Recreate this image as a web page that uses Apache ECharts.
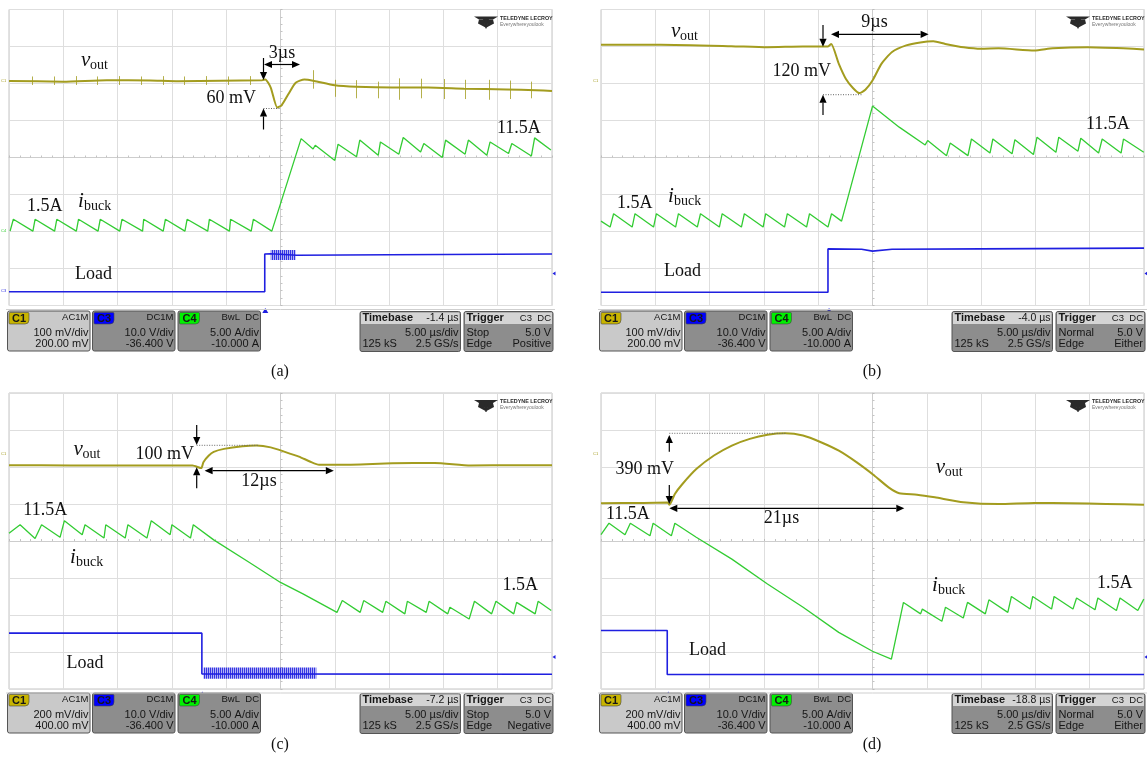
<!DOCTYPE html>
<html><head><meta charset="utf-8">
<script src="https://cdn.jsdelivr.net/npm/echarts@6/dist/echarts.min.js"></script>
<style>html,body{margin:0;padding:0;background:#fff}#c{width:1147px;height:757px}</style>
</head><body><div id="c"></div>
<script>
// ===== data: time in µs from screen centre, amplitude in screen divisions =====
const voutA = [[-25,2.07],[-20,2.05],[-16,2.09],[-12,2.08],[-9.4,2.06],[-1.7,2.09],[-1.4,2.11],[-0.9,1.89],[-0.3,1.35],[0.1,1.41],[0.76,1.73],[1.4,2.02],[2.2,2.11],[3.1,2.07],[5.0,1.95],[7.0,1.91],[10.3,1.89],[13.6,1.89],[16.9,1.86],[20.8,1.84],[23.5,1.82],[25,1.8]];
const spikesA = [[-22.86,1.96,2.19],[-20.86,1.96,2.19],[-18.85,1.96,2.2],[-16.84,1.96,2.19],[-14.84,1.96,2.2],[-12.83,1.96,2.19],[-10.82,1.96,2.2],[-8.82,1.96,2.19],[-6.81,1.96,2.2],[-4.8,1.96,2.19],[-2.8,1.96,2.2],
  [3.06,1.86,2.36],[5.03,1.64,2.1],[7.0,1.6,2.09],[8.98,1.6,2.05],[10.95,1.56,2.14],[12.93,1.6,2.13],[15.07,1.58,2.12],[17.04,1.58,2.1],[19.18,1.56,2.1],[21.15,1.58,2.08],[23.13,1.6,2.05]];
const ibuckA = [[-24.9,-1.99],[-24.6,-1.67],[-22.8,-1.99],[-22.6,-1.67],[-20.8,-1.99],[-20.6,-1.67],[-18.8,-1.99],[-18.6,-1.67],[-16.8,-1.99],[-16.6,-1.67],[-14.8,-1.99],[-14.6,-1.67],[-12.7,-1.99],[-12.6,-1.67],[-10.8,-1.99],[-10.6,-1.67],[-8.8,-1.99],[-8.6,-1.67],[-6.7,-1.99],[-6.55,-1.67],[-4.7,-1.99],[-4.6,-1.67],[-2.7,-1.99],[-2.5,-1.67],[-0.8,-1.99],
  [1.9,0.51],[3.0,0.23],[3.2,0.33],[5.0,-0.08],[5.3,0.36],[7.0,0.02],[7.3,0.47],[9.0,0.06],[9.2,0.42],[10.9,0.09],[11.3,0.54],[12.9,0.15],[13.2,0.38],[14.9,0.0],[15.2,0.47],[17.0,0.09],[17.3,0.47],[19.0,0.06],[19.3,0.42],[21.0,0.11],[21.3,0.38],[23.1,0.04],[23.4,0.53],[24.9,0.2]];
const loadA = [[-25,-3.63],[-1.45,-3.63],[-1.45,-2.61],[-0.9,-2.6],[1.5,-2.64],[10,-2.63],[25,-2.61]];
const burstA = [-0.9,1.4,-2.77,-2.5];

const voutB = [[-25,3.05],[-19.5,3.05],[-13,3.01],[-9.7,2.98],[-6.4,3.0],[-4.1,3.0],[-3.8,3.07],[-3.1,2.53],[-2.46,2.13],[-1.8,1.88],[-1.21,1.74],[-0.66,1.83],[0,2.08],[0.82,2.53],[1.8,2.85],[3.1,3.03],[4.4,3.11],[5.6,3.14],[6.7,3.07],[8.4,2.98],[10,2.94],[11.6,2.95],[14.9,2.89],[16.6,2.95],[19.8,2.98],[23.1,2.95],[25,2.92]];
const ibuckB = [[-25,-1.72],[-24.16,-1.88],[-23.84,-1.52],[-22.13,-1.88],[-21.87,-1.52],[-20.16,-1.88],[-19.9,-1.52],[-18.13,-1.88],[-17.87,-1.52],[-16.13,-1.88],[-15.84,-1.52],[-14.1,-1.88],[-13.84,-1.52],[-12.07,-1.88],[-11.8,-1.52],[-10.07,-1.88],[-9.84,-1.52],[-8.1,-1.88],[-7.84,-1.52],[-6.07,-1.88],[-5.8,-1.52],[-4.1,-1.88],[-3.77,-1.52],[-2.85,-1.72],
  [0,1.39],[2.46,0.82],[4.85,0.34],[5.08,0.46],[6.82,0.05],[7.15,0.39],[8.79,0.05],[9.11,0.5],[10.82,0.12],[11.08,0.5],[12.85,0.1],[13.11,0.48],[14.82,0.08],[15.15,0.55],[16.89,0.14],[17.15,0.55],[18.92,0.17],[19.18,0.52],[20.82,0.12],[21.15,0.5],[22.89,0.12],[23.11,0.5],[24.98,0.14]];
const loadB = [[-25,-3.64],[-4.1,-3.64],[-4.1,-2.47],[-1,-2.48],[0,-2.53],[1.8,-2.48],[10,-2.47],[25,-2.45]];

const voutC = [[-25,2.05],[-19.3,2.04],[-12.1,2.04],[-8.1,2.04],[-7.3,1.97],[-7.1,2.13],[-6.6,2.31],[-6.15,2.41],[-5.2,2.49],[-3.5,2.56],[-2.2,2.58],[-0.9,2.53],[0.4,2.41],[1.7,2.28],[2.7,2.15],[3.55,2.06],[5.4,2.06],[10.3,2.1],[14.2,2.11],[17.5,2.04],[21.5,2.05],[25,2.05]];
const ibuckC = [[-25,0.21],[-23.98,0.44],[-22.6,0.07],[-22.0,0.44],[-20.3,0.1],[-19.9,0.55],[-18.26,0.17],[-18.0,0.44],[-16.25,0.08],[-16.09,0.44],[-14.3,0.08],[-14.05,0.44],[-12.3,0.08],[-11.9,0.55],[-10.16,0.17],[-10.0,0.44],[-8.29,0.08],[-8.03,0.44],
  [-6.15,0.03],[-2.86,-0.58],[0,-1.12],[2.07,-1.43],[5.2,-1.93],[5.69,-1.61],[7.34,-1.93],[7.66,-1.61],[9.41,-1.93],[9.7,-1.63],[11.45,-1.97],[11.68,-1.63],[13.42,-1.93],[13.68,-1.63],[15.4,-1.97],[15.6,-1.79],[17.37,-2.11],[17.86,-1.63],[19.44,-1.97],[19.84,-1.63],[21.48,-1.97],[21.74,-1.66],[23.45,-1.97],[23.72,-1.63],[24.93,-1.88]];
const loadC = [[-25,-2.49],[-7.24,-2.49],[-7.24,-3.59],[25,-3.6]];
const burstC = [-7.1,3.3,-3.72,-3.42];

const voutD = [[-25,1.02],[-21.1,1.03],[-18.85,1.04],[-18.7,0.98],[-18.2,1.27],[-17.5,1.54],[-16.2,1.95],[-14.6,2.31],[-12.95,2.58],[-11.3,2.76],[-9.67,2.87],[-8.03,2.91],[-6.4,2.85],[-4.75,2.67],[-3.1,2.44],[-1.48,2.13],[0.16,1.77],[1.48,1.45],[2.46,1.29],[4.1,1.25],[5.74,1.18],[8.36,1.05],[11.64,1.0],[14.9,1.03],[18.2,1.02],[21.5,1.0],[25,0.98]];
const ibuckD = [[-25,0.17],[-24.26,0.48],[-22.79,0.17],[-22.3,0.48],[-20.49,0.14],[-20.2,0.48],[-18.52,0.14],[-18.2,0.48],[-16.23,0.1],[-12.95,-0.49],[-9.67,-1.16],[-6.39,-1.79],[-3.11,-2.47],[0,-2.98],[1.74,-3.19],
  [2.85,-1.66],[4.43,-1.97],[4.59,-1.84],[6.39,-2.17],[6.72,-1.79],[8.36,-2.08],[8.75,-1.66],[10.39,-1.97],[10.72,-1.59],[12.46,-1.93],[12.79,-1.5],[14.52,-1.84],[14.75,-1.5],[16.49,-1.84],[16.72,-1.5],[18.46,-1.84],[18.79,-1.54],[20.49,-1.86],[20.75,-1.54],[22.46,-1.88],[22.79,-1.54],[24.43,-1.88],[24.98,-1.57]];
const loadD = [[-25,-2.42],[-18.9,-2.42],[-18.9,-3.61],[25,-3.61]];

// scope settings shown in the info bars
const c1Scale = ['100 mV/div','100 mV/div','200 mV/div','200 mV/div'];
const c1Offset = ['200.00 mV','200.00 mV','400.00 mV','400.00 mV'];
const tbDelay = [-1.4,-4.0,-7.2,-18.8];
const trigMode = ['Stop','Normal','Stop','Normal'];
const trigSlope = ['Positive','Either','Negative','Either'];
const captions = ['(a)','(b)','(c)','(d)'];

// ===== chart =====
const panels = [
  {vout:voutA, ibuck:ibuckA, load:loadA, spikes:spikesA, burst:burstA},
  {vout:voutB, ibuck:ibuckB, load:loadB, spikes:[], burst:null},
  {vout:voutC, ibuck:ibuckC, load:loadC, spikes:[], burst:burstC},
  {vout:voutD, ibuck:ibuckD, load:loadD, spikes:[], burst:null}
];
const layout = [{l:9,t:9.5,ox:0,oy:0},{l:601,t:9.5,ox:592,oy:0},{l:9,t:393,ox:0,oy:382},{l:601,t:393,ox:592,oy:382}];
const GW=543, GH=296;
const COL={v:'#a39c1f', i:'#33cc33', l:'#1f1fe0'};

// dense vertical hatch pattern used for the ringing bursts on the load trace
const hatch = document.createElement('canvas'); hatch.width=2; hatch.height=4;
(function(){ const g=hatch.getContext('2d'); g.fillStyle='rgba(31,31,224,0.9)'; g.fillRect(0,0,1.2,4); g.fillStyle='rgba(31,31,224,0.25)'; g.fillRect(1.2,0,0.8,4); })();

const grids=[], xAxes=[], yAxes=[], series=[];
panels.forEach((p,k)=>{
  grids.push({left:layout[k].l, top:layout[k].t, width:GW, height:GH, show:true, borderColor:'#c4c4c4', borderWidth:1, backgroundColor:'#fff', outerBoundsMode:'none', containLabel:false});
  const ax = {gridIndex:k, type:'value', axisLabel:{show:false},
    axisLine:{show:true,onZero:true,lineStyle:{color:'#cdcdcd',width:1}},
    axisTick:{show:true,inside:true,length:2,lineStyle:{color:'#bdbdbd'}},
    minorTick:{show:true,splitNumber:5,length:2,lineStyle:{color:'#c4c4c4'}},
    splitLine:{show:true,lineStyle:{color:'#dedede',width:1}}};
  xAxes.push(Object.assign({}, ax, {min:-25,max:25,interval:5}));
  yAxes.push(Object.assign({}, ax, {min:-4,max:4,interval:1}));
  const base = {type:'line', xAxisIndex:k, yAxisIndex:k, symbol:'none', silent:true, animation:false};
  const vs = Object.assign({}, base, {data:p.vout, smooth:0.2, z:4, lineStyle:{color:COL.v,width:2}});
  if (p.spikes.length) vs.markLine = {silent:true, animation:false, symbol:['none','none'], label:{show:false},
    lineStyle:{color:COL.v,width:1,type:'solid',opacity:0.8}, emphasis:{disabled:true},
    data:p.spikes.map(s=>[{coord:[s[0],s[1]]},{coord:[s[0],s[2]]}])};
  series.push(vs);
  series.push(Object.assign({}, base, {data:p.ibuck, z:3, lineStyle:{color:COL.i,width:1.3}}));
  const ls = Object.assign({}, base, {data:p.load, z:3, lineStyle:{color:COL.l,width:1.6},
    markPoint:{silent:true, animation:false, symbol:'triangle', symbolSize:[6,5], symbolOffset:[0,5], label:{show:false},
      itemStyle:{color:COL.l}, data:[{coord:[tbDelay[k],-4]}]}});
  if (p.burst) ls.markArea = {silent:true, animation:false, itemStyle:{color:{image:hatch,repeat:'repeat'}}, label:{show:false},
    data:[[{coord:[p.burst[0],p.burst[2]]},{coord:[p.burst[1],p.burst[3]]}]]};
  series.push(ls);
});

// ===== graphic overlays (annotations, info bars, captions) =====
const G=[];
const SERIF='"Liberation Serif","Times New Roman",serif';
const SANS='"Liberation Sans",Arial,sans-serif';
function T(x,y,text,font,opt){ opt=opt||{}; G.push({type:'text',x,y,z:opt.z||60,silent:true,style:{text,font,fill:opt.fill||'#111',align:opt.align||'left',verticalAlign:'middle'}}); }
function L(x1,y1,x2,y2,st){ G.push({type:'line',z:60,silent:true,shape:{x1,y1,x2,y2},style:Object.assign({stroke:'#000',lineWidth:1.2},st||{})}); }
function head(x2,y2,ux,uy){ const hl=8,hw=3.6,bx=x2-ux*hl,by=y2-uy*hl;
  G.push({type:'polygon',z:61,silent:true,shape:{points:[[x2,y2],[bx-uy*hw,by+ux*hw],[bx+uy*hw,by-ux*hw]]},style:{fill:'#000'}}); return [bx,by]; }
function arrow(x1,y1,x2,y2){ const dx=x2-x1,dy=y2-y1,d=Math.hypot(dx,dy); const b=head(x2,y2,dx/d,dy/d); L(x1,y1,b[0],b[1]); }
function darrow(x1,x2,y){ const a=head(x1,y,-1,0), b=head(x2,y,1,0); L(a[0],y,b[0],y); }
function dotted(x1,x2,y){ L(x1,y,x2,y,{stroke:'#666',lineWidth:1,lineDash:[1,1.5]}); }
function label(x,y,t,align){ T(x,y,t,'18px '+SERIF,{align:align||'left'}); }
function sub(x,y,main,s){ T(x,y,main,'italic 21px '+SERIF); T(x+(main==='v'?9:6),y+5,s,'14px '+SERIF); }

// (a)
arrow(263.5,58,263.5,80); darrow(264,300,64.5); arrow(263.5,129.5,263.5,108.5); dotted(263.5,279.5,108.5);
T(282,53,'3µs','18px '+SERIF,{align:'center'}); label(256,98,'60 mV','right');
sub(81,60,'v','out'); label(497,128,'11.5A'); label(27,206,'1.5A'); sub(78,201,'i','buck'); label(75,274,'Load');
// (b)
arrow(823,25,823,46.7); darrow(831,928.6,34.3); arrow(823,115,823,94.7); dotted(823,862,94.7);
T(874.5,22.7,'9µs','18px '+SERIF,{align:'center'}); label(831,71.7,'120 mV','right');
sub(671,31,'v','out'); label(1086,124,'11.5A'); label(617,203,'1.5A'); sub(668,196,'i','buck'); label(664,271,'Load');
// (c)
arrow(196.7,425,196.7,445); dotted(196.7,258.4,445.3); arrow(196.7,488.3,196.7,467.3); darrow(204.6,333.8,470.7);
label(194,454,'100 mV','right'); T(259,481,'12µs','18px '+SERIF,{align:'center'});
sub(73.6,449,'v','out'); label(23.3,510,'11.5A'); sub(70,557,'i','buck'); label(502.5,585,'1.5A'); label(66.4,663,'Load');
// (d)
arrow(669.3,451.7,669.3,435); dotted(669.3,786.4,433.3); arrow(669.3,485,669.3,504); darrow(669.3,904.3,508.3);
label(674,469,'390 mV','right'); T(781.5,518.3,'21µs','18px '+SERIF,{align:'center'});
sub(935.7,467,'v','out'); label(606,514,'11.5A'); sub(932,585,'i','buck'); label(1097,583.3,'1.5A'); label(689,650.7,'Load');

// logos, screen frame, small level markers
layout.forEach((o,k)=>{
  const lx=o.l+465, ly=o.t+5;
  G.push({type:'polygon',z:20,silent:true,shape:{points:[[lx,ly+2],[lx+24,ly+2],[lx+19,ly+5],[lx+15,ly+5],[lx+12.5,ly+14],[lx+11.5,ly+14],[lx+9,ly+5],[lx+5,ly+5]]},style:{fill:'#2a2a2a'}});
  G.push({type:'polygon',z:20,silent:true,shape:{points:[[lx+5,ly+5],[lx+10,ly+5],[lx+11.5,ly+13],[lx+4,ly+9]]},style:{fill:'#2a2a2a'}});
  G.push({type:'polygon',z:20,silent:true,shape:{points:[[lx+19,ly+5],[lx+14,ly+5],[lx+12.5,ly+13],[lx+20,ly+9]]},style:{fill:'#2a2a2a'}});
  T(lx+26,ly+4,'TELEDYNE LECROY','bold 5.4px '+SANS,{fill:'#2a2a2a',z:20});
  T(lx+26,ly+10,'Everywhereyoulook','5px '+SANS,{fill:'#777',z:20});
  L(o.l-3,o.t+GH+4,o.l+GW+3,o.t+GH+4,{stroke:'#cfcfcf',lineWidth:1});
  G.push({type:'polygon',z:20,silent:true,shape:{points:[[o.l+GW+0.5,o.t+264],[o.l+GW+3.5,o.t+262],[o.l+GW+3.5,o.t+266]]},style:{fill:COL.l}});
  T(o.l-8,o.t+(k<2?71:61),'C1','4px '+SANS,{fill:COL.v,z:20});
});
T(1,231,'C4','4px '+SANS,{fill:COL.i,z:20}); T(1,291,'C3','4px '+SANS,{fill:COL.l,z:20});

// info bars
function box(x,y,w,h,fill){ G.push({type:'rect',z:30,silent:true,shape:{x,y,width:w,height:h,r:2},style:{fill,stroke:'#555',lineWidth:1}}); }
function tt(x,y,t,al,sz,b){ T(x,y,t,(b?'bold ':'')+sz+'px '+SANS,{align:al,fill:'#161616',z:32}); }
layout.forEach((o,k)=>{
  const X=o.ox, Y=o.oy;
  const ch=[{x:7.5,fill:'#c9c9c9',tag:'C1',tf:'#c8b400',h:'AC1M',r1:c1Scale[k],r2:c1Offset[k]},
            {x:92.5,fill:'#8d8d8d',tag:'C3',tf:'#0000ff',h:'DC1M',r1:'10.0 V/div',r2:'-36.400 V'},
            {x:178,fill:'#8d8d8d',tag:'C4',tf:'#00f000',h:'BwL  DC',r1:'5.00 A/div',r2:'-10.000 A'}];
  ch.forEach(c=>{
    box(X+c.x,Y+311,82.5,40,c.fill);
    G.push({type:'rect',z:31,silent:true,shape:{x:X+c.x+1.5,y:Y+312.5,width:20,height:11.5,r:[1,1,4,1]},style:{fill:c.tf,stroke:'#444',lineWidth:0.6}});
    tt(X+c.x+11.5,Y+318.5,c.tag,'center',11,true);
    tt(X+c.x+81,Y+317.5,c.h,'right',9.5,false);
    tt(X+c.x+81,Y+332.5,c.r1,'right',11,false);
    tt(X+c.x+81,Y+344,c.r2,'right',11,false);
  });
  box(X+360,Y+311.5,100.5,40,'#8d8d8d');
  G.push({type:'rect',z:31,silent:true,shape:{x:X+361,y:Y+312.5,width:98.5,height:11.5},style:{fill:'#d4d4d4'}});
  tt(X+362.5,Y+318,'Timebase','left',11,true);
  tt(X+458.5,Y+318,tbDelay[k].toFixed(1)+' µs','right',10.5,false);
  tt(X+458.5,Y+332.5,'5.00 µs/div','right',11,false);
  tt(X+362.5,Y+344,'125 kS','left',11,false);
  tt(X+458.5,Y+344,'2.5 GS/s','right',11,false);
  box(X+464,Y+311.5,89,40,'#8d8d8d');
  G.push({type:'rect',z:31,silent:true,shape:{x:X+465,y:Y+312.5,width:87,height:11.5},style:{fill:'#d4d4d4'}});
  tt(X+466.5,Y+318,'Trigger','left',11,true);
  tt(X+551,Y+318,'C3  DC','right',9.5,false);
  tt(X+466.5,Y+332.5,trigMode[k],'left',11,false);
  tt(X+551,Y+332.5,'5.0 V','right',11,false);
  tt(X+466.5,Y+344,'Edge','left',11,false);
  tt(X+551,Y+344,trigSlope[k],'right',11,false);
  T(X+280,Y+372-(k>1?9:0),captions[k],'16px '+SERIF,{align:'center',fill:'#111'});
});

const chart = echarts.init(document.getElementById('c'), null, {renderer:'canvas'});
chart.setOption({animation:false, backgroundColor:'#fff', grid:grids, xAxis:xAxes, yAxis:yAxes, series, graphic:{elements:G}});
</script></body></html>
